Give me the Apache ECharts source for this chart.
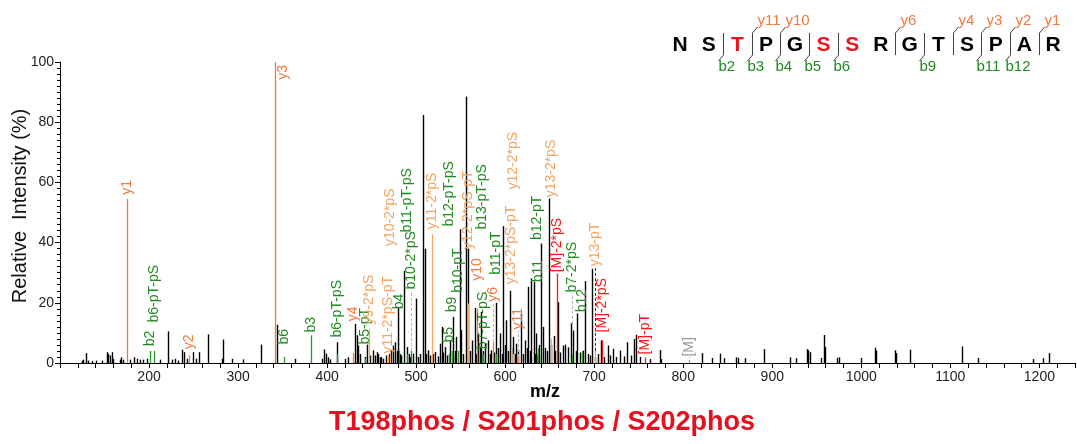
<!DOCTYPE html>
<html><head><meta charset="utf-8">
<script src="https://cdn.jsdelivr.net/npm/echarts@6/dist/echarts.min.js"></script>
<style>html,body{margin:0;padding:0;background:#fff}#c{width:1077px;height:444px}</style>
</head><body><div id="c"></div>
<script>
// ---------- data ----------
const xTickLabels = [200,300,400,500,600,700,800,900,1000,1100,1200];
const yTickLabels = [0,20,40,60,80,100];

// unannotated peaks (m/z, relative intensity %)
const peakMz = [124.5,126.3,129.3,131.9,135.7,140.5,146.9,152.5,154.3,156.2,158.1,159.9,167.5,168.6,171.2,178.7,183.2,186.2,189.9,193.6,198.1,212.3,221.7,225.4,229.2,232.9,236.7,239.3,242.3,249,252.7,256.5,266.6,281.6,283.4,292.8,
305.8,325.4,343.3,363.9,393.8,396.7,398.7,400.6,403.1,410.6,420,423.7,431.2,433.1,434.2,437,442.5,445,448,451.7,453.5,455.5,457.5,459.3,461,463,466,469.5,471.6,473.5,476.1,478,479.8,
481.5,483.5,486.6,489.2,491.5,493.5,496.7,499.3,502.3,504.5,507.9,509.8,511.5,513.5,515.5,518.5,521,524,526.6,528.5,530.5,532.2,535,537.8,541.6,543.5,545.3,549.1,550.9,553,556.5,558.4,560.5,562.9,565.9,567.5,569.6,571.5,573.4,575.5,577.1,580.8,582.5,584.6,587,590.2,592.5,594,596,597.7,599.5,601.4,603.5,605.2,607,608.9,610.5,612.6,614.5,618.3,620,622,624,625.7,627.5,629.5,632.1,633.5,635.1,637.5,640,642.6,645,647,649,652,654.5,656.5,
659.4,662,665,667.7,670.7,673.7,676.3,679,681.1,684.5,687.5,690.1,693.1,695,697.6,700.5,704,707.8,711,715.6,718,721.2,725,728.7,733,737.3,741,744.7,747.4,751,762.3,773.5,775.4,
821.4,832.2,841.6,845.3,859.6,861.4,868.9,890.2,919.4,926.9,938.8,940.4,941.9,955,957.6,959,972.5,974.7,999.1,1015.6,1016.7,1037.3,1038.4,1054.9,1112.8,1130.7,1192.5,1203.7,1210.4];
const peakInt = [0.8,1.1,3.3,0.8,0.7,0.8,0.8,3.6,3.0,2.5,3.6,1.4,1.1,1.9,1.1,1.1,1.9,1.4,1.1,1.1,1.4,1.1,10.5,1.1,1.4,0.8,4.4,3.6,1.4,3.6,1.4,3.6,9.5,1.4,7.8,1.4,
1.2,6.1,12.7,1.4,1.4,4.5,3.1,1.9,1.2,6.9,1.4,1.9,13,9.2,5.8,3,2,6.1,2.5,4.2,2.5,3.6,3,1.9,2,1.4,2.5,3,4.2,5.8,6.9,4,18.4,
3,2.5,30.6,5.3,3,2,3.1,21.4,2,3,82.4,38,3,4.2,2.5,3,3.7,2.2,6.4,12,3.5,5.3,2.5,7.5,15.3,4,8.7,44.4,10.9,3,88.5,38,4,7.5,18.3,3,9.8,5,17,4,6.4,7.5,3,4.2,3.5,20,5,9.8,3,45.5,6,14.2,4,24,5,8.7,3,6.4,4.5,16.5,3,7.5,5,25.3,4,28.1,27,3,9.8,6,39.7,12,5,4,54.6,6,9,4,
20.2,3.5,5.8,6.1,5.2,13.2,10.8,4,16.5,3.5,4.1,27.2,3,2.5,31.3,2,3,7.5,2,5.8,2.5,4.7,2,4.1,2.2,6.9,2.5,8,9.4,2,1.3,4.3,1.3,
3.3,1.7,3.1,1.6,1.9,1.7,1.6,4.6,1.9,1.6,4.6,4.2,3.6,1.7,9.3,5.3,1.7,1.9,1.7,5.1,4.2,4.2,3.3,4.4,5.5,1.7,1.3,1.6,3.3];

// annotated fragment peaks
const annMz    = [175,201.1,205.5,245.2,341.4,351.5,381.5,410.8,428.6,442.4,447,468.6,470.5,480.6,489.6,494.5,517.3,536.5,536.4,540,547,558.4,568,575,573.7,586,589.5,606,608.5,614,636,637,652,658.5,674.7,686,700.6,708.4,756.7,807];
const annInt   = [54.5,4,4,2.5,100,2,9.2,3,3.3,1.5,11.4,2,4,4,3,4,42.8,3,3,4,4,19.8,18,3,3,7,3,11.9,3,2,3,5,8,29.7,3,4,4,7.5,1.8,1.8];
const annText  = ['y1','b2','b6-pT-pS','y2','y3','b6','b3','b6-pT-pS','y4','b5-pT','y9-2*pS','y11-2*pS-pT','y10-2*pS','b4','b11-pT-pS','b10-2*pS','y11-2*pS','b12-pT-pS','b5','b9','b10-pT','y12-2*pS-pT','y10','b7-pT-pS','b13-pT-pS','y6','b11-pT','y13-2*pS-pT','y12-2*pS','y11','b12-pT','b11','y13-2*pS','[M]-2*pS','b7-2*pS','b12','y13-pT','[M]-2*pS','[M]-pT','[M]'];
const annKind  = ['y','b','b','y','y','b','b','b','y','b','yl','yl','yl','b','b','b','yl','b','b','b','b','yl','y','b','b','y','b','yl','yl','y','b','b','yl','M','b','b','yl','M','M','Mg'];
const annLabelAt = [55.6,5.2,13.1,4.2,100,5.8,9.8,8.1,13.5,5.8,12.5,2.8,38.5,17.5,43,24.1,44.1,45,6.5,16.5,23,37.5,27,4.2,44,20,29,25.8,57.3,10.8,40.5,26.5,54.7,29.8,23.1,16.5,31.8,9.8,2.5,1.8];
const annLink  = [0,0,0,0,0,0,0,0,0,0,0,0,0,1,0,1,0,0,0,0,0,0,0,0,0,1,0,0,0,1,0,0,0,0,1,0,1,0,0,0];

// peptide sequence with fragment coverage
const sequence = ['N','S','T','P','G','S','S','R','G','T','S','P','A','R'];
const phosSites = [3,6,7];
const bIons = [2,3,4,5,6,9,11,12];
const yIons = [11,10,6,4,3,2,1];

const subtitle = 'T198phos / S201phos / S202phos';

// ---------- styles ----------
const FONT = 'Arial, "Liberation Sans", Helvetica, sans-serif';
const kindLine = {y:'#f27a3e', yl:'#f5a866', b:'#2a962a', M:'#ff1a1a', Mg:'#9a9a9a'};
const kindText = {y:'#f27a3e', yl:'#f3a463', b:'#1f8a1f', M:'#ff1414', Mg:'#9a9a9a'};

const chart = echarts.init(document.getElementById('c'), null, {renderer:'canvas'});

function peakItem(params, api){
  const p0 = api.coord([api.value(0), 0]);
  const p1 = api.coord([api.value(0), api.value(1)]);
  const x = Math.round(p0[0]) + 0.5;
  return {type:'line', shape:{x1:x, y1:p0[1], x2:x, y2:p1[1]}, style:{stroke:'#000', lineWidth:1.4}};
}

function annItem(params, api){
  const i = params.dataIndex;
  const kind = annKind[i];
  const m = api.value(0), v = api.value(1), la = api.value(2);
  const p0 = api.coord([m, 0]);
  const p1 = api.coord([m, v]);
  const pl = api.coord([m, la]);
  const x = Math.round(p0[0]) + 0.5;
  const children = [];
  if (kind === 'Mg') {
    children.push({type:'line', shape:{x1:x,y1:p0[1],x2:x,y2:pl[1]}, style:{stroke:kindLine[kind], lineWidth:1.2, lineDash:[3,2]}});
  } else {
    children.push({type:'line', shape:{x1:x,y1:p0[1],x2:x,y2:p1[1]}, style:{stroke:kindLine[kind], lineWidth:1.3}});
    if (annLink[i]) {
      children.push({type:'line', shape:{x1:x,y1:p1[1],x2:x,y2:pl[1]}, style:{stroke: kind==='yl' ? '#333' : '#b5b5b5', lineWidth:1, lineDash:[3,2]}});
    }
  }
  if (la >= 99) {
    children.push({type:'text', x: x + 8, y: pl[1] + 3, rotation: Math.PI/2,
      style:{text: annText[i], fill: kindText[kind], font: '14px ' + FONT, align:'right', verticalAlign:'middle'}});
  } else {
    children.push({type:'text', x: x, y: pl[1] - 1, rotation: Math.PI/2,
      style:{text: annText[i], fill: kindText[kind], font: '14px ' + FONT, align:'left', verticalAlign:'middle'}});
  }
  return {type:'group', children};
}

// sequence graphic
const seqX0 = 680, seqStep = 28.7, seqY = 45;
const graphics = [];
sequence.forEach((aa, i) => {
  graphics.push({type:'text', x: seqX0 + i*seqStep, y: seqY,
    style:{text: aa, fill: phosSites.includes(i+1) ? '#e8141c' : '#000', font: 'bold 21px ' + FONT, align:'center', verticalAlign:'middle'}});
});
const cuts = {};
bIons.forEach(k => { (cuts[k] = cuts[k] || {}).b = k; });
yIons.forEach(j => { const k = sequence.length - j; (cuts[k] = cuts[k] || {}).y = j; });
Object.keys(cuts).forEach(key => {
  const k = +key;
  const mx = Math.round(seqX0 + (k-1)*seqStep + seqStep/2) + 0.5;
  graphics.push({type:'line', shape:{x1:mx, y1:33, x2:mx, y2:55}, style:{stroke:'#444', lineWidth:1}});
  if (cuts[k].b) {
    graphics.push({type:'line', shape:{x1:mx, y1:55, x2:mx-5, y2:61}, style:{stroke:'#444', lineWidth:1}});
    graphics.push({type:'text', x: mx-5, y: 59, style:{text:'b'+cuts[k].b, fill:'#1f8a1f', font:'15px ' + FONT, align:'left', verticalAlign:'top'}});
  }
  if (cuts[k].y) {
    graphics.push({type:'line', shape:{x1:mx, y1:33, x2:mx+5, y2:27}, style:{stroke:'#444', lineWidth:1}});
    graphics.push({type:'text', x: mx+5, y: 28, style:{text:'y'+cuts[k].y, fill:'#f27a3e', font:'15px ' + FONT, align:'left', verticalAlign:'bottom'}});
  }
});
// axis titles & subtitle
graphics.push({type:'text', x: 20, y: 206, rotation: Math.PI/2,
  style:{text:'Relative  Intensity (%)', fill:'#111', font:'20px ' + FONT, align:'center', verticalAlign:'middle'}});
graphics.push({type:'text', x: 545, y: 392,
  style:{text:'m/z', fill:'#000', font:'bold 18px ' + FONT, align:'center', verticalAlign:'middle'}});
graphics.push({type:'text', x: 542, y: 423,
  style:{text: subtitle, fill:'#e60f1e', font:'bold 27px ' + FONT, align:'center', verticalAlign:'middle'}});

chart.setOption({
  animation: false,
  backgroundColor: '#fff',
  grid: {left: 60, right: 2, top: 62, bottom: 81},
  xAxis: {
    type: 'value', min: 100, max: 1240, interval: 100,
    axisLine: {show: true, onZero: false, lineStyle: {color: '#000', width: 1}},
    axisTick: {show: true, length: 5, lineStyle: {color: '#000'}},
    minorTick: {show: true, splitNumber: 5, length: 5, lineStyle: {color: '#000'}},
    splitLine: {show: false}, minorSplitLine: {show: false},
    axisLabel: {fontSize: 14, color: '#222', fontFamily: FONT, margin: 7, showMaxLabel: false,
      formatter: v => xTickLabels.includes(v) ? String(v) : ''}
  },
  yAxis: {
    type: 'value', min: 0, max: 100, interval: 20,
    axisLine: {show: true, lineStyle: {color: '#000', width: 1}},
    axisTick: {show: true, length: 5, lineStyle: {color: '#000'}},
    minorTick: {show: true, splitNumber: 10, length: 3, lineStyle: {color: '#000'}},
    splitLine: {show: false}, minorSplitLine: {show: false},
    axisLabel: {fontSize: 14, color: '#222', fontFamily: FONT, margin: 6,
      formatter: v => yTickLabels.includes(v) ? String(v) : ''}
  },
  graphic: graphics,
  series: [
    {type: 'custom', renderItem: peakItem, clip: true, silent: true,
     encode: {x: 0, y: 1}, data: peakMz.map((m, i) => [m, peakInt[i]])},
    {type: 'custom', renderItem: annItem, clip: false, silent: true,
     encode: {x: 0, y: 1}, data: annMz.map((m, i) => [m, annInt[i], annLabelAt[i]])}
  ]
});
</script></body></html>
